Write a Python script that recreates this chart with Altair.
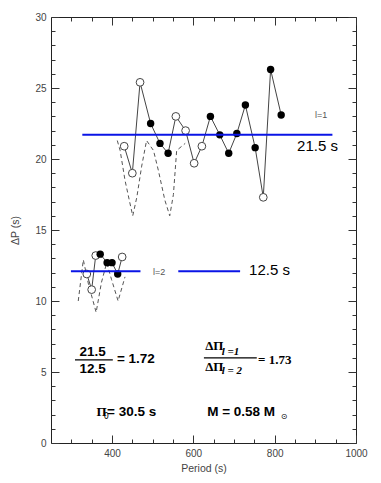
import altair as alt
import pandas as pd

# ---------------- data ----------------
# l = 1 observed period spacings
l1_period = [430, 450, 469, 495, 518, 538, 557, 581, 602, 621, 642, 665, 687, 707, 728, 752, 772, 790, 816]
l1_dp = [20.9, 19.0, 25.4, 22.5, 21.1, 20.4, 23.0, 22.0, 19.7, 20.9, 23.0, 21.7, 20.4, 21.8, 23.8, 20.8, 17.3, 26.3, 23.1]
l1_kind = ["open", "open", "open", "filled", "filled", "filled", "open", "open", "open", "open",
           "filled", "filled", "filled", "filled", "filled", "filled", "open", "filled", "filled"]

# l = 2 observed period spacings
l2_period = [338, 350, 360, 371, 388, 400, 414, 425]
l2_dp = [11.9, 10.8, 13.2, 13.3, 12.7, 12.7, 11.9, 13.1]
l2_kind = ["open", "open", "open", "filled", "filled", "filled", "filled", "open"]

# model (dashed) curves
l1_model_period = [413, 420, 432, 444, 451, 461, 473, 485, 502, 514, 530, 542, 551, 559, 580]
l1_model_dp = [21.3, 20.6, 18.5, 16.9, 16.0, 17.3, 19.5, 21.3, 20.6, 19.2, 17.1, 16.0, 17.5, 20.6, 21.1]
l2_model_period = [317, 329.5, 342, 361, 374, 387, 399, 415, 432]
l2_model_dp = [10.0, 12.9, 11.2, 9.2, 11.3, 12.7, 11.5, 10.0, 11.7]

# mean spacing segments (blue)
mean_start = [327, 299, 563]
mean_end = [942, 470, 715]
mean_dp = [21.7, 12.1, 12.1]

# axis ticks
x_ticks = list(range(300, 1001, 50))
y_ticks = list(range(0, 31))

# ---------------- tables ----------------
l1 = pd.DataFrame({"period": l1_period, "dp": l1_dp, "kind": l1_kind})
l2 = pd.DataFrame({"period": l2_period, "dp": l2_dp, "kind": l2_kind})
m1 = pd.DataFrame({"period": l1_model_period, "dp": l1_model_dp})
m2 = pd.DataFrame({"period": l2_model_period, "dp": l2_model_dp})
means = pd.DataFrame({"x": mean_start, "x2": mean_end, "y": mean_dp})

# annotations (data coordinates)
ann_sans_bold = pd.DataFrame({"t": ["21.5", "12.5", "= 1.72", "= 30.5 s", "M = 0.58 M"],
                              "x": [320, 320, 412, 388, 634], "y": [6.41, 5.21, 5.92, 2.18, 2.18]})
ann_serif_bold = pd.DataFrame({"t": ["ΔΠ", "ΔΠ", "= 1.73", "Π"],
                               "x": [629, 629, 759, 362], "y": [6.83, 5.35, 5.85, 2.18]})
ann_serif_sub = pd.DataFrame({"t": ["l =1", "l = 2"], "x": [670, 670], "y": [6.41, 5.1]})
ann_small_sub = pd.DataFrame({"t": ["0", "⊙"], "x": [380, 815], "y": [1.8, 1.8]})
ann_mean = pd.DataFrame({"t": ["21.5 s", "12.5 s"], "x": [855, 737], "y": [20.9, 12.2]})
ann_deg = pd.DataFrame({"t": ["l=1", "l=2"], "x": [899, 501], "y": [23.1, 12.05]})
frac_lines = pd.DataFrame({"x": [309, 626], "x2": [402, 756], "y": [5.85, 5.99]})

XS = alt.Scale(domain=[250, 1000], nice=False, zero=False)
YS = alt.Scale(domain=[0, 30], nice=False, zero=False)

x_dash = {"condition": {"test": "datum.value % 200 != 0", "value": [0, 4, 4, 30]}, "value": [30, 0]}
y_dash = {"condition": {"test": "datum.value % 5 != 0", "value": [0, 4, 4, 30]}, "value": [30, 0]}


def x_axis(orient, labels, title=None):
    kw = dict(orient=orient, values=x_ticks, offset=-8, tickSize=8, domain=False, grid=False,
              labels=labels, tickDash=x_dash, tickColor="#333", tickWidth=1)
    if labels:
        kw.update(labelExpr="datum.value % 200 == 0 ? datum.label : ''", labelFlush=False,
                  labelOverlap=False, labelPadding=5, format="d")
    if title:
        kw.update(title=title, titleX=152.5, titleY=33, titleBaseline="middle", titleAlign="center")
    else:
        kw.update(title=None)
    return alt.Axis(**kw)


def y_axis(orient, labels, title=None):
    kw = dict(orient=orient, values=y_ticks, offset=-8, tickSize=8, domain=False, grid=False,
              labels=labels, tickDash=y_dash, tickColor="#333", tickWidth=1)
    if labels:
        kw.update(labelExpr="datum.value % 5 == 0 ? datum.label : ''", labelFlush=False,
                  labelOverlap=False, labelPadding=5)
    if title:
        kw.update(title=title, titleX=-44, titleY=213, titleAngle=-90, titleBaseline="middle",
                  titleAlign="center")
    else:
        kw.update(title=None)
    return alt.Axis(**kw)


def X(field, axis=None):
    return alt.X(field, type="quantitative", scale=XS, axis=axis)


def Y(field, axis=None):
    return alt.Y(field, type="quantitative", scale=YS, axis=axis)


model1 = alt.Chart(m1).mark_line(color="#555", strokeDash=[4, 3], strokeWidth=1).encode(
    x=X("period", x_axis("bottom", True, "Period (s)")),
    y=Y("dp", y_axis("left", True, "ΔP (s)")),
)
model2 = alt.Chart(m2).mark_line(color="#555", strokeDash=[4, 3], strokeWidth=1).encode(
    x=X("period", x_axis("top", False)),
    y=Y("dp", y_axis("right", False)),
)

line1 = alt.Chart(l1).mark_line(color="#444", strokeWidth=1).encode(x=X("period"), y=Y("dp"))
line2 = alt.Chart(l2).mark_line(color="#444", strokeWidth=1).encode(x=X("period"), y=Y("dp"))

open1 = alt.Chart(l1).transform_filter("datum.kind == 'open'").mark_point(
    shape="circle", filled=True, fill="white", stroke="#444", strokeWidth=1, size=60, opacity=1
).encode(x=X("period"), y=Y("dp"))
fill1 = alt.Chart(l1).transform_filter("datum.kind == 'filled'").mark_point(
    shape="circle", filled=True, color="black", size=55, opacity=1
).encode(x=X("period"), y=Y("dp"))
open2 = alt.Chart(l2).transform_filter("datum.kind == 'open'").mark_point(
    shape="circle", filled=True, fill="white", stroke="#444", strokeWidth=1, size=60, opacity=1
).encode(x=X("period"), y=Y("dp"))
fill2 = alt.Chart(l2).transform_filter("datum.kind == 'filled'").mark_point(
    shape="circle", filled=True, color="black", size=55, opacity=1
).encode(x=X("period"), y=Y("dp"))

blue = alt.Chart(means).mark_rule(color="#0a14e6", strokeWidth=2).encode(
    x=X("x"), x2="x2", y=Y("y"))
fracs = alt.Chart(frac_lines).mark_rule(color="black", strokeWidth=1.3).encode(
    x=X("x"), x2="x2", y=Y("y"))


def txt(df, **kw):
    return alt.Chart(df).mark_text(align="left", baseline="middle", **kw).encode(
        x=X("x"), y=Y("y"), text="t:N")


t1 = txt(ann_sans_bold, font="Liberation Sans", fontSize=13.5, fontWeight="bold", color="black")
t2 = txt(ann_serif_bold, font="Liberation Serif", fontSize=13, fontWeight="bold", color="black")
t3 = txt(ann_serif_sub, font="Liberation Serif", fontSize=11, fontWeight="bold", fontStyle="italic",
         color="black")
t4 = txt(ann_small_sub, font="DejaVu Sans", fontSize=8, color="black")
t5 = txt(ann_mean, font="Liberation Sans", fontSize=15, color="black")
t6 = txt(ann_deg, font="Liberation Sans", fontSize=9, color="#555")

chart = alt.layer(
    model1, model2, line1, line2, open1, fill1, open2, fill2, blue, fracs, t1, t2, t3, t4, t5, t6
).resolve_axis(x="independent", y="independent").properties(
    width=305, height=426,
    autosize=alt.AutoSizeParams(type="none"),
    padding={"left": 51, "top": 17, "right": 25, "bottom": 40},
    background="white",
).configure_view(stroke="#222", strokeWidth=1).configure_axis(
    labelFont="Liberation Sans", labelFontSize=10, labelColor="#444",
    titleFont="Liberation Sans", titleFontSize=10.5, titleFontWeight="normal", titleColor="#444",
)

chart.save("out.html", embed_options={"renderer": "svg", "actions": False})
